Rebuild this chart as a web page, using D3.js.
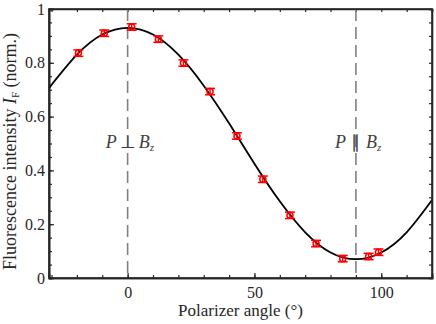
<!DOCTYPE html>
<html>
<head>
<meta charset="utf-8">
<script src="https://cdn.jsdelivr.net/npm/d3@7"></script>
<style>
  body { margin: 0; background: #fff; }
</style>
</head>
<body>
<svg width="436" height="324" font-family="Liberation Serif"></svg>
<script>
// measured points (polarizer angle in deg, normalised intensity, error)
const angles = [-19.4, -9.2, 1.6, 12.1, 22, 32.5, 43.1, 53.3, 64, 74.3, 84.8, 95, 98.9];
const intensity = [0.836, 0.910, 0.933, 0.888, 0.799, 0.693, 0.528, 0.367, 0.233, 0.128, 0.072, 0.080, 0.096];
const errors = [0.012, 0.012, 0.012, 0.012, 0.012, 0.012, 0.012, 0.012, 0.012, 0.012, 0.012, 0.012, 0.012];

// fitted curve
const fitAngles = [-31, -20, -10, 0, 10, 20, 30, 40, 50, 60, 70, 80, 90, 100, 110, 120];
const fitValues = [0.706, 0.830, 0.905, 0.930, 0.905, 0.830, 0.715, 0.575, 0.425, 0.285, 0.170, 0.095, 0.070, 0.095, 0.170, 0.290];

const xMajor = [0, 50, 100];
const yMajor = [0, 0.2, 0.4, 0.6, 0.8, 1];
const markerLines = [0, 90];

const serif = "Liberation Serif";
const ink = "#262626";

const svg = d3.select("svg");
const margin = { top: 9, right: 4, bottom: 46, left: 49 };
const width = +svg.attr("width") - margin.left - margin.right;
const height = +svg.attr("height") - margin.top - margin.bottom;
const chart = svg.append("g").attr("transform", `translate(${margin.left},${margin.top})`);

const x = d3.scaleLinear().domain([-31, 120]).range([0, width]);
const y = d3.scaleLinear().domain([0, 1]).range([height, 0]);

const xMinor = d3.range(-30, 121, 10);
const yMinor = d3.range(0, 1.0001, 0.05);

// minor ticks (all four sides, pointing in)
chart.append("g").attr("class", "axis").attr("transform", `translate(0,${height})`)
    .call(d3.axisBottom(x).tickValues(xMinor).tickSize(-3).tickFormat(""));
chart.append("g").attr("class", "axis")
    .call(d3.axisTop(x).tickValues(xMinor).tickSize(-3).tickFormat(""));
chart.append("g").attr("class", "axis")
    .call(d3.axisLeft(y).tickValues(yMinor).tickSize(-3).tickFormat(""));
chart.append("g").attr("class", "axis").attr("transform", `translate(${width},0)`)
    .call(d3.axisRight(y).tickValues(yMinor).tickSize(-3).tickFormat(""));

// major ticks with labels
chart.append("g").attr("class", "axis").attr("transform", `translate(0,${height})`)
    .call(d3.axisBottom(x).tickValues(xMajor).tickSize(-5).tickPadding(9).tickFormat(d3.format("d")));
chart.append("g").attr("class", "axis")
    .call(d3.axisLeft(y).tickValues(yMajor).tickSize(-5).tickPadding(4).tickFormat(d => d === 0 || d === 1 ? d : d.toFixed(1)));
chart.selectAll(".axis")
    .attr("font-family", serif)
    .attr("font-size", 16);
chart.selectAll(".axis path").attr("stroke", ink).attr("stroke-width", 1.6);
chart.selectAll(".axis line").attr("stroke", ink).attr("stroke-width", 1.2);
chart.selectAll(".axis text").attr("fill", ink);

// dashed guide lines
chart.selectAll(".guide")
    .data(markerLines)
    .enter().append("line")
    .attr("class", "guide")
    .attr("x1", d => x(d)).attr("x2", d => x(d))
    .attr("y1", y(1)).attr("y2", y(0))
    .attr("stroke", "#808080")
    .attr("stroke-width", 1.6)
    .attr("stroke-dasharray", "12,6");

// annotations
const labels = [
    { at: 0, rel: "\u22A5", gap: 11 },
    { at: 90, rel: "\u2225", gap: 10 }
];
labels.forEach(l => {
    const g = chart.append("g")
        .attr("fill", "#404040")
        .attr("font-family", serif)
        .attr("font-size", 18);
    const ty = y(0.483);
    g.append("text").attr("x", x(l.at) - l.gap).attr("y", ty)
        .attr("text-anchor", "end").attr("font-style", "italic").text("P");
    g.append("text").attr("x", x(l.at)).attr("y", ty)
        .attr("text-anchor", "middle").text(l.rel);
    const b = g.append("text").attr("x", x(l.at) + l.gap).attr("y", ty)
        .attr("text-anchor", "start").attr("font-style", "italic");
    b.append("tspan").text("B");
    b.append("tspan").attr("dy", 3).attr("font-size", 11).text("z");
});

// fit curve
const line = d3.line()
    .x(d => x(d[0]))
    .y(d => y(d[1]))
    .curve(d3.curveNatural);
chart.append("path")
    .datum(fitAngles.map((a, i) => [a, fitValues[i]]))
    .attr("fill", "none")
    .attr("stroke", "#000")
    .attr("stroke-width", 1.8)
    .attr("d", line);

// data points with error bars
const pts = chart.selectAll(".pt")
    .data(angles.map((a, i) => ({ a, v: intensity[i], e: errors[i] })))
    .enter().append("g")
    .attr("class", "pt")
    .attr("stroke", "#ff0000")
    .attr("stroke-width", 1.5)
    .attr("fill", "none");
pts.append("line")
    .attr("x1", d => x(d.a)).attr("x2", d => x(d.a))
    .attr("y1", d => y(d.v - d.e)).attr("y2", d => y(d.v + d.e));
pts.append("line")
    .attr("x1", d => x(d.a) - 5).attr("x2", d => x(d.a) + 5)
    .attr("y1", d => y(d.v - d.e)).attr("y2", d => y(d.v - d.e));
pts.append("line")
    .attr("x1", d => x(d.a) - 5).attr("x2", d => x(d.a) + 5)
    .attr("y1", d => y(d.v + d.e)).attr("y2", d => y(d.v + d.e));
pts.append("circle")
    .attr("cx", d => x(d.a)).attr("cy", d => y(d.v))
    .attr("r", 3);

// box frame
chart.append("rect")
    .attr("width", width).attr("height", height)
    .attr("fill", "none").attr("stroke", ink).attr("stroke-width", 1.6);

// axis titles
svg.append("text")
    .attr("x", margin.left + width / 2).attr("y", 316)
    .attr("text-anchor", "middle")
    .attr("fill", ink)
    .attr("font-family", serif)
    .attr("font-size", 17)
    .text("Polarizer angle (\u00B0)");

const yl = svg.append("text")
    .attr("transform", `translate(16,${margin.top + height / 2 + 8}) rotate(-90)`)
    .attr("text-anchor", "middle")
    .attr("fill", ink)
    .attr("font-family", serif)
    .attr("font-size", 18);
yl.append("tspan").text("Fluorescence intensity ");
yl.append("tspan").attr("font-style", "italic").text("I");
yl.append("tspan").attr("dy", 3).attr("font-size", 11).text("F");
yl.append("tspan").attr("dy", -3).text(" (norm.)");
</script>
</body>
</html>
